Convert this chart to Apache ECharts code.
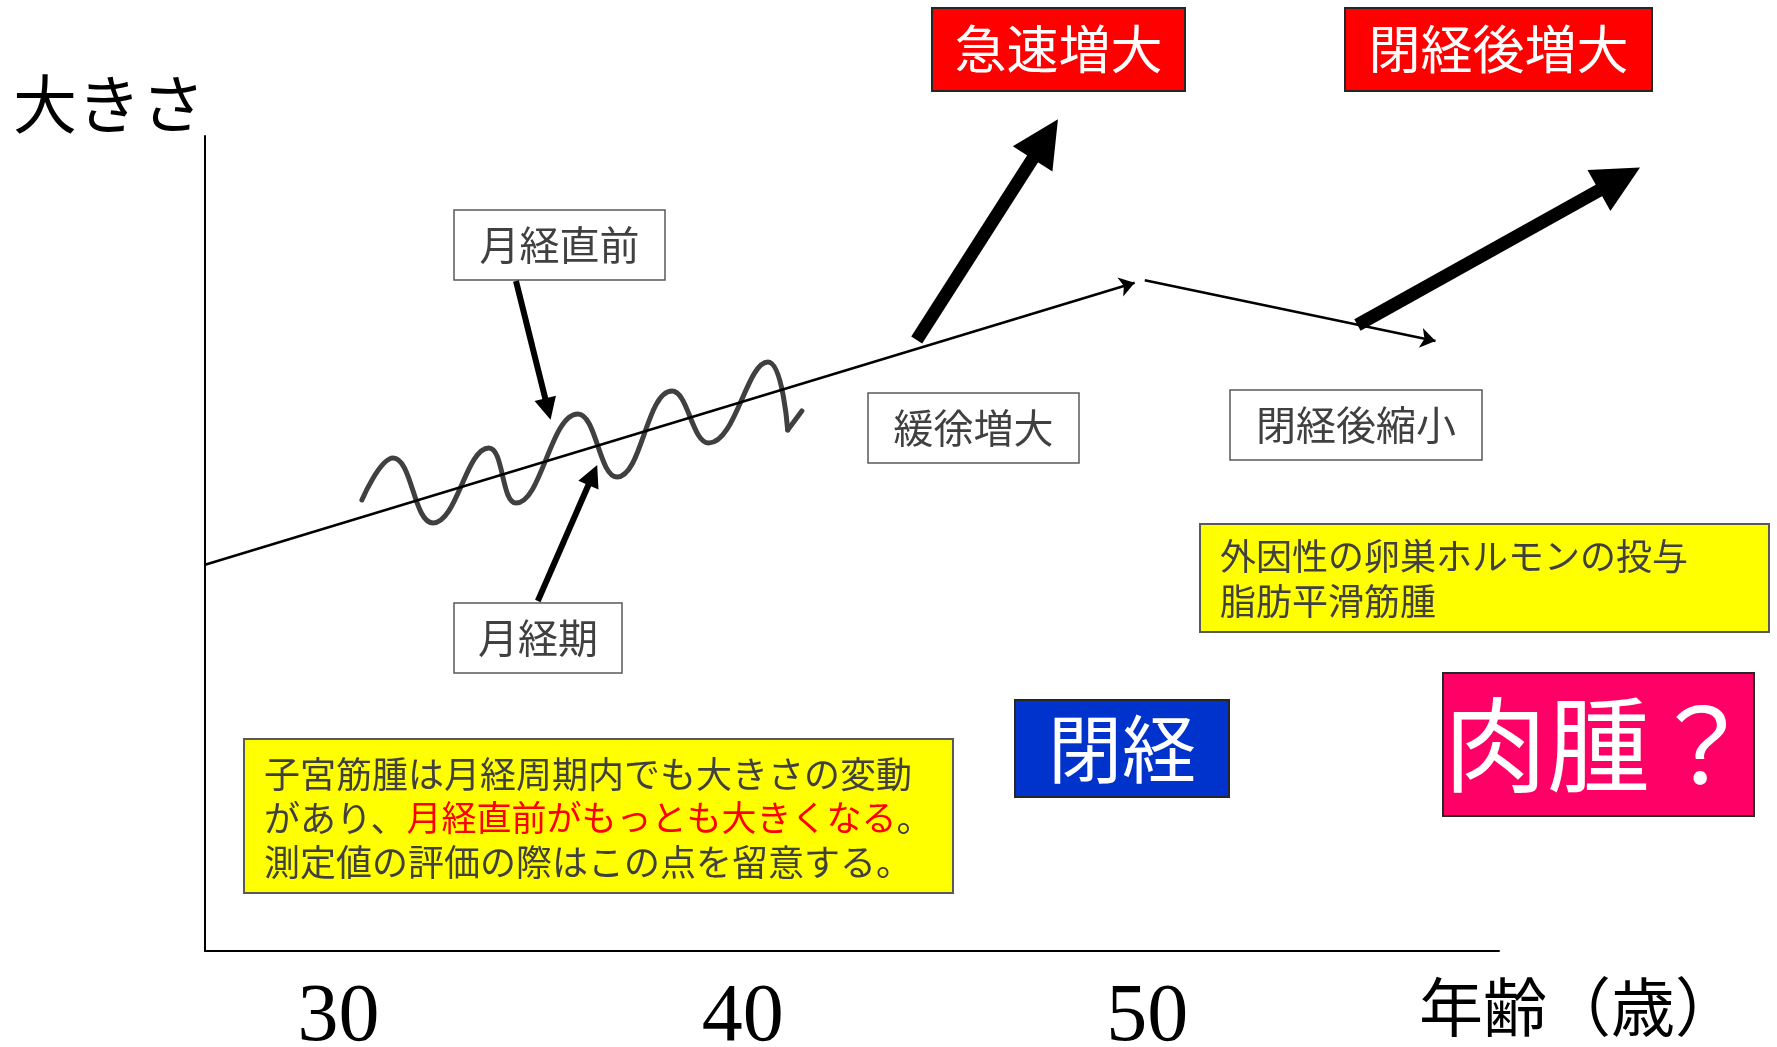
<!DOCTYPE html>
<html>
<head>
<meta charset="utf-8">
<title>子宮筋腫の大きさと年齢</title>
<script src="https://cdn.jsdelivr.net/npm/echarts@6/dist/echarts.min.js"></script>
<style>
    html, body { margin: 0; padding: 0; background: #fff; }
    #chart { width: 1777px; height: 1047px; }
</style>
</head>
<body>
<div id="chart"></div>
<script>
// x: age (years), y: relative size (0-100)
const ageTicks = [30, 40, 50];

// trend of size: slow growth until menopause, then shrink
const trendStartAge = [26.7, 49.94];
const trendStartSize = [47.4, 82.3];
const trendEndAge = [49.69, 57.13];
const trendEndSize = [82.0, 74.85];

// fluctuation within the menstrual cycle (peaks and troughs)
const waveAges = [30.58, 31.35, 32.34, 33.72, 34.39, 35.92, 36.89, 38.25, 39.16, 40.62, 41.11];
const waveSizes = [55.34, 60.49, 52.52, 61.72, 54.97, 65.89, 58.16, 68.71, 62.33, 72.27, 63.93];
const hookAges = [41.11, 41.46];
const hookSizes = [63.93, 66.26];

// callout arrows: 月経直前, 月経期
const calloutStartAge = [34.39, 34.93];
const calloutStartSize = [82.21, 42.94];
const calloutEndAge = [35.18, 36.29];
const calloutEndSize = [66.5, 58.4];

// thick arrows: 急速増大, 閉経後増大
const growthStartAge = [44.30, 55.20];
const growthStartSize = [74.97, 76.81];
const growthEndAge = [47.48, 61.68];
const growthEndSize = [99.63, 94.72];

const JP = '"Noto Sans CJK JP", sans-serif';

function segments(ax, ay, bx, by) {
    return ax.map((a, i) => ({ coords: [[a, ay[i]], [bx[i], by[i]]] }));
}

function box(x, y, w, h, fill, stroke, lw, text, size, color) {
    return {
        type: 'group',
        children: [
            { type: 'rect', shape: { x: x, y: y, width: w, height: h }, style: { fill: fill, stroke: stroke, lineWidth: lw } },
            { type: 'text', style: { text: text, x: x + w / 2, y: y + h / 2, fill: color, fontSize: size, fontFamily: JP, align: 'center', verticalAlign: 'middle' } }
        ]
    };
}

const chart = echarts.init(document.getElementById('chart'));

const option = {
    animation: false,
    backgroundColor: '#fff',
    grid: { left: 205, right: 278, top: 136, bottom: 96, outerBoundsMode: 'none' },
    xAxis: {
        type: 'value',
        min: 26.7,
        max: 58.7,
        name: '年齢（歳）',
        nameLocation: 'end',
        nameGap: 80,
        nameTextStyle: { fontSize: 64, fontFamily: JP, color: '#000', align: 'center', verticalAlign: 'top', lineHeight: 112 },
        axisLine: { lineStyle: { color: '#000', width: 2 } },
        axisTick: { show: false },
        splitLine: { show: false },
        axisLabel: {
            customValues: ageTicks,
            margin: 26,
            fontSize: 82,
            fontFamily: '"Liberation Serif", serif',
            color: '#000'
        }
    },
    yAxis: {
        type: 'value',
        min: 0,
        max: 100,
        name: '大きさ',
        nameLocation: 'end',
        nameGap: 0,
        nameTextStyle: { fontSize: 64, fontFamily: JP, color: '#000', align: 'right', verticalAlign: 'bottom' },
        axisLine: { show: true, lineStyle: { color: '#000', width: 2 } },
        axisTick: { show: false },
        axisLabel: { show: false },
        splitLine: { show: false }
    },
    series: [
        {
            type: 'line',
            z: 2,
            smooth: 0.45,
            showSymbol: false,
            silent: true,
            lineStyle: { color: '#404040', width: 5, cap: 'round', join: 'round' },
            data: waveAges.map((a, i) => [a, waveSizes[i]])
        },
        {
            type: 'line',
            z: 2,
            showSymbol: false,
            silent: true,
            lineStyle: { color: '#404040', width: 5, cap: 'round' },
            data: hookAges.map((a, i) => [a, hookSizes[i]])
        },
        {
            type: 'lines',
            coordinateSystem: 'cartesian2d',
            z: 3,
            clip: false,
            silent: true,
            symbol: ['none', 'arrow'],
            symbolSize: [10, 15],
            lineStyle: { color: '#000', width: 2.5, opacity: 1 },
            data: segments(trendStartAge, trendStartSize, trendEndAge, trendEndSize)
        },
        {
            type: 'lines',
            coordinateSystem: 'cartesian2d',
            z: 4,
            clip: false,
            silent: true,
            symbol: ['none', 'triangle'],
            symbolSize: [22, 22],
            lineStyle: { color: '#000', width: 6, opacity: 1 },
            data: segments(calloutStartAge, calloutStartSize, calloutEndAge, calloutEndSize)
        },
        {
            type: 'lines',
            coordinateSystem: 'cartesian2d',
            z: 4,
            clip: false,
            silent: true,
            symbol: ['none', 'triangle'],
            symbolSize: [47, 47],
            lineStyle: { color: '#000', width: 13, opacity: 1 },
            data: segments(growthStartAge, growthStartSize, growthEndAge, growthEndSize)
        }
    ],
    graphic: [
        box(454, 210, 211, 70, '#fff', '#595959', 1.5, '月経直前', 40, '#404040'),
        box(454, 603, 168, 70, '#fff', '#595959', 1.5, '月経期', 40, '#404040'),
        box(868, 393, 211, 70, '#fff', '#595959', 1.5, '緩徐増大', 40, '#404040'),
        box(1230, 390, 252, 70, '#fff', '#595959', 1.5, '閉経後縮小', 40, '#404040'),
        box(932, 8, 253, 83, '#FF0000', '#262626', 2, '急速増大', 52, '#fff'),
        box(1345, 8, 307, 83, '#FF0000', '#262626', 2, '閉経後増大', 52, '#fff'),
        box(1015, 700, 214, 97, '#0033CC', '#262626', 2, '閉経', 74, '#fff'),
        box(1443, 673, 311, 143, '#FF0066', '#262626', 2, '肉腫？', 103, '#fff'),
        {
            type: 'group',
            children: [
                { type: 'rect', shape: { x: 1200, y: 524, width: 569, height: 108 }, style: { fill: '#FFFF00', stroke: '#595959', lineWidth: 2 } },
                {
                    type: 'text',
                    style: {
                        text: '外因性の卵巣ホルモンの投与\n脂肪平滑筋腫',
                        x: 1220, y: 534, fill: '#404040', fontSize: 36, lineHeight: 45,
                        fontFamily: JP, align: 'left', verticalAlign: 'top'
                    }
                }
            ]
        },
        {
            type: 'group',
            children: [
                { type: 'rect', shape: { x: 244, y: 739, width: 709, height: 154 }, style: { fill: '#FFFF00', stroke: '#595959', lineWidth: 2 } },
                {
                    type: 'text',
                    style: {
                        text: '子宮筋腫は月経周期内でも大きさの変動\nがあり、{r|月経直前がもっとも大きくなる}。\n測定値の評価の際はこの点を留意する。',
                        x: 264, y: 752, fill: '#404040', fontSize: 36, lineHeight: 44,
                        fontFamily: JP, align: 'left', verticalAlign: 'top',
                        rich: { r: { fill: '#FF0000', fontSize: 35, lineHeight: 44, fontFamily: JP } }
                    }
                }
            ]
        }
    ]
};

chart.setOption(option);
</script>
</body>
</html>
